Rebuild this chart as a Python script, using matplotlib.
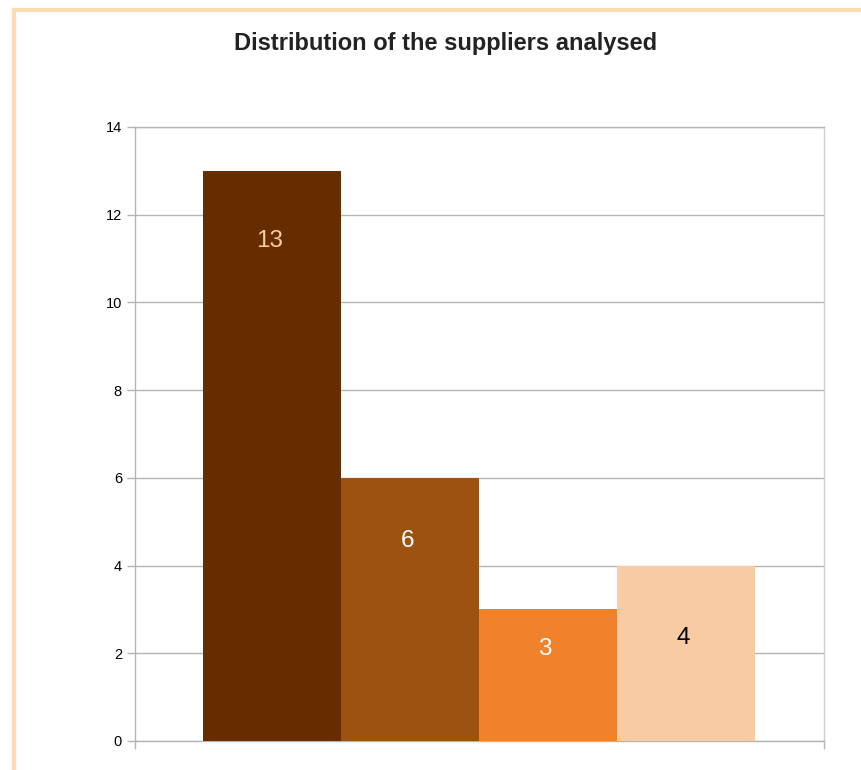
import matplotlib
matplotlib.use("Agg")
import matplotlib.pyplot as plt
from matplotlib.lines import Line2D

categories = ["A", "B", "C", "D"]
values = [13, 6, 3, 4]
label_pos = [11.4, 4.55, 2.1, 2.35]
bar_colors = ["#662D00", "#9E5211", "#F0822B", "#F9CBA2"]
label_colors = ["#F9CBA2", "#FFFFFF", "#FFFFFF", "#000000"]
yticks = [0, 2, 4, 6, 8, 10, 12, 14]

plt.rcParams['font.family'] = ['Liberation Sans', 'DejaVu Sans']

fig = plt.figure(figsize=(8.61, 7.7), dpi=100)
ax = fig.add_axes([134.5/861, 1-741/770, 689/861, 614/770])

x = list(range(len(values)))
ax.bar(x, values, width=1.0, color=bar_colors, zorder=3)
for xi, lp, v, c in zip(x, label_pos, values, label_colors):
    ax.text(xi - 0.02, lp, str(v), ha='center', va='center', color=c, fontsize=17.5, zorder=4)

ax.set_xlim(-1.0, 4.0)
ax.set_ylim(0, 14)
ax.set_yticks(yticks)
ax.set_yticklabels([str(t) for t in yticks], fontsize=10.5)
ax.set_xticks([-1.0, 4.0])
ax.set_xticklabels(["", ""])
ax.yaxis.grid(True, color="#B4B4B4", linewidth=1.0, zorder=0)
ax.tick_params(axis='y', length=6, width=1, color="#B4B4B4", pad=3)
ax.tick_params(axis='x', length=6, width=1, color="#B4B4B4")
for s in ['left', 'right', 'top', 'bottom']:
    ax.spines[s].set_color("#B4B4B4")
    ax.spines[s].set_linewidth(1.0)
ax.spines['right'].set_color("#CFCFCF")

fig.text(446/861, 1-43.5/770, "Distribution of the suppliers analysed",
         ha='center', va='center', fontsize=17, fontweight='bold', color="#222222")

border = "#FDDCB3"
fig.add_artist(Line2D([13.5/861, 1.0], [1-10/770, 1-10/770], color=border, linewidth=3, transform=fig.transFigure))
fig.add_artist(Line2D([13.5/861, 13.5/861], [0, 1-10/770], color=border, linewidth=3, transform=fig.transFigure))

fig.savefig("out.png", dpi=100)
